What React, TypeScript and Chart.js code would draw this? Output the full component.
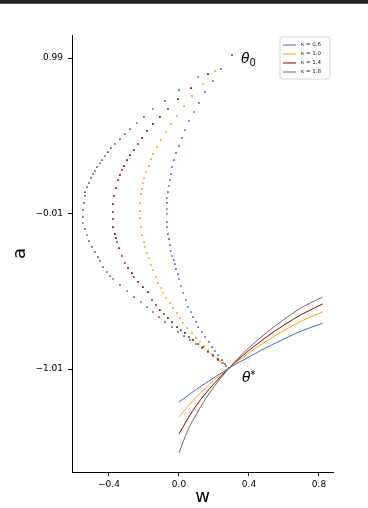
import React, { useEffect, useRef } from "react";
import { Chart, registerables } from "chart.js";

Chart.register(...registerables);

// ---------- data ----------
const SERIES_LABELS = ["κ = 0.6", "κ = 1.0", "κ = 1.4", "κ = 1.8"];
const SERIES_COLORS = ["#4169e1", "#ffa500", "#8b0000", "#696969"];
const X_TICKS = [-0.4, 0.0, 0.4, 0.8];
const Y_TICKS = [-1.01, -0.01, 0.99];

// dotted optimisation paths (w, a) from theta_0 to theta*
const PATH_06: [number, number][] = [
  [0.303, 1.009], [0.240, 0.919], [0.194, 0.842], [0.149, 0.771], [0.114, 0.701], [0.086, 0.643],
  [0.057, 0.585], [0.034, 0.527], [0.017, 0.476], [0.000, 0.424], [-0.017, 0.379], [-0.029, 0.334],
  [-0.040, 0.289], [-0.046, 0.244], [-0.051, 0.205], [-0.057, 0.167], [-0.063, 0.128], [-0.069, 0.090],
  [-0.069, 0.058], [-0.069, 0.019], [-0.069, -0.013], [-0.069, -0.065], [-0.069, -0.097], [-0.063, -0.142],
  [-0.057, -0.174], [-0.051, -0.213], [-0.046, -0.251], [-0.040, -0.283], [-0.029, -0.309], [-0.023, -0.335],
  [-0.017, -0.367], [-0.006, -0.399], [0.000, -0.431], [0.011, -0.476], [0.023, -0.521], [0.040, -0.566],
  [0.051, -0.611], [0.069, -0.643], [0.080, -0.676], [0.097, -0.708], [0.109, -0.740], [0.131, -0.772],
  [0.149, -0.804], [0.171, -0.836], [0.189, -0.869], [0.206, -0.894], [0.223, -0.920], [0.246, -0.952],
  [0.263, -0.978], [0.286, -1.004],
];
const PATH_10: [number, number][] = [
  [0.303, 1.009], [0.206, 0.906], [0.137, 0.823], [0.074, 0.746], [0.029, 0.681], [-0.011, 0.617],
  [-0.046, 0.566], [-0.074, 0.514], [-0.103, 0.463], [-0.126, 0.418], [-0.149, 0.373], [-0.160, 0.340],
  [-0.171, 0.295], [-0.189, 0.257], [-0.200, 0.218], [-0.206, 0.186], [-0.211, 0.148], [-0.217, 0.115],
  [-0.223, 0.058], [-0.223, 0.006], [-0.223, -0.039], [-0.217, -0.097], [-0.211, -0.148], [-0.200, -0.193],
  [-0.194, -0.225], [-0.183, -0.264], [-0.171, -0.296], [-0.160, -0.341], [-0.149, -0.373], [-0.131, -0.418],
  [-0.120, -0.457], [-0.103, -0.489], [-0.091, -0.521], [-0.074, -0.553], [-0.051, -0.586], [-0.034, -0.618],
  [-0.011, -0.650], [0.006, -0.682], [0.023, -0.714], [0.046, -0.746], [0.074, -0.778], [0.097, -0.811],
  [0.120, -0.836], [0.143, -0.862], [0.166, -0.888], [0.189, -0.914], [0.217, -0.939], [0.234, -0.959],
  [0.251, -0.971], [0.269, -0.991], [0.286, -1.004],
];
const PATH_14: [number, number][] = [
  [0.303, 1.009], [0.166, 0.887], [0.069, 0.797], [-0.006, 0.726], [-0.063, 0.662], [-0.109, 0.611],
  [-0.149, 0.566], [-0.183, 0.521], [-0.211, 0.476], [-0.234, 0.437], [-0.257, 0.398], [-0.280, 0.366],
  [-0.297, 0.334], [-0.314, 0.295], [-0.326, 0.270], [-0.337, 0.238], [-0.349, 0.205], [-0.360, 0.154],
  [-0.371, 0.103], [-0.377, 0.051], [-0.377, 0.000], [-0.377, -0.045], [-0.377, -0.097], [-0.366, -0.142],
  [-0.360, -0.168], [-0.354, -0.193], [-0.343, -0.232], [-0.326, -0.283], [-0.309, -0.328], [-0.291, -0.360],
  [-0.269, -0.393], [-0.257, -0.418], [-0.234, -0.450], [-0.206, -0.483], [-0.177, -0.515], [-0.154, -0.566],
  [-0.131, -0.598], [-0.109, -0.631], [-0.086, -0.656], [-0.063, -0.682], [-0.040, -0.708], [-0.011, -0.740],
  [0.011, -0.759], [0.034, -0.778], [0.057, -0.804], [0.080, -0.823], [0.109, -0.849], [0.137, -0.869],
  [0.166, -0.894], [0.194, -0.920], [0.223, -0.946], [0.251, -0.971], [0.269, -0.991], [0.286, -1.004],
];
const PATH_18: [number, number][] = [
  [0.303, 1.009], [0.109, 0.868], [0.000, 0.784], [-0.080, 0.713], [-0.149, 0.662], [-0.200, 0.611],
  [-0.240, 0.572], [-0.280, 0.533], [-0.309, 0.501], [-0.337, 0.469], [-0.366, 0.437], [-0.389, 0.411],
  [-0.406, 0.385], [-0.423, 0.360], [-0.440, 0.334], [-0.451, 0.315], [-0.469, 0.289], [-0.480, 0.263],
  [-0.491, 0.244], [-0.503, 0.218], [-0.514, 0.186], [-0.526, 0.160], [-0.537, 0.128], [-0.537, 0.103],
  [-0.543, 0.058], [-0.549, 0.013], [-0.549, -0.033], [-0.549, -0.071], [-0.537, -0.110], [-0.526, -0.148],
  [-0.514, -0.187], [-0.497, -0.225], [-0.480, -0.258], [-0.463, -0.290], [-0.451, -0.315], [-0.434, -0.354],
  [-0.411, -0.386], [-0.394, -0.412], [-0.377, -0.431], [-0.337, -0.470], [-0.297, -0.508], [-0.257, -0.547],
  [-0.217, -0.579], [-0.183, -0.611], [-0.149, -0.643], [-0.114, -0.676], [-0.080, -0.708], [-0.040, -0.740],
  [-0.006, -0.772], [0.029, -0.798], [0.063, -0.823], [0.097, -0.849], [0.131, -0.875], [0.166, -0.901],
  [0.194, -0.926], [0.223, -0.952], [0.246, -0.971], [0.269, -0.991], [0.286, -1.004],
];

// solid curves through theta*
const CURVE_W = [0, 0.05, 0.1, 0.15, 0.2, 0.286, 0.4, 0.5, 0.6, 0.7, 0.82];
const CURVE_06 = [-1.222, -1.181, -1.140, -1.102, -1.066, -1.004, -0.932, -0.872, -0.817, -0.765, -0.716];
const CURVE_10 = [-1.319, -1.250, -1.189, -1.134, -1.082, -1.004, -0.906, -0.831, -0.763, -0.701, -0.643];
const CURVE_14 = [-1.428, -1.330, -1.243, -1.170, -1.105, -1.004, -0.890, -0.804, -0.727, -0.659, -0.592];
const CURVE_18 = [-1.550, -1.405, -1.300, -1.205, -1.125, -1.004, -0.873, -0.776, -0.691, -0.615, -0.547];

const PATHS = [PATH_06, PATH_10, PATH_14, PATH_18];
const CURVES = [CURVE_06, CURVE_10, CURVE_14, CURVE_18];

// annotation anchors (data coords)
const THETA0_AT = [0.354, 0.958];
const THETASTAR_AT = [0.36, -1.094];

const fmt = (v: number, d: number) => (v < 0 ? "\u2212" : "") + Math.abs(v).toFixed(d);

const overlayPlugin = {
  id: "overlay",
  afterDatasetsDraw(chart: any) {
    const ctx = chart.ctx as CanvasRenderingContext2D;
    const xs = chart.scales.x;
    const ys = chart.scales.y;
    ctx.save();
    ctx.fillStyle = "#000";
    ctx.textBaseline = "alphabetic";
    ctx.textAlign = "left";
    // theta_0
    let px = xs.getPixelForValue(THETA0_AT[0]);
    let py = ys.getPixelForValue(THETA0_AT[1]);
    ctx.font = "italic 14px 'DejaVu Sans'";
    ctx.fillText("θ", px, py);
    let tw = ctx.measureText("θ").width;
    ctx.font = "10px 'DejaVu Sans'";
    ctx.fillText("0", px + tw, py + 3);
    // theta*
    px = xs.getPixelForValue(THETASTAR_AT[0]);
    py = ys.getPixelForValue(THETASTAR_AT[1]);
    ctx.font = "italic 14px 'DejaVu Sans'";
    ctx.fillText("θ", px, py);
    tw = ctx.measureText("θ").width;
    ctx.font = "10px 'DejaVu Sans'";
    ctx.fillText("*", px + tw, py - 4);

    // legend
    const area = chart.chartArea;
    const bx = area.right - 53;
    const by = area.top + 2;
    const bw = 50;
    const bh = 42;
    ctx.beginPath();
    const r = 2;
    ctx.moveTo(bx + r, by);
    ctx.lineTo(bx + bw - r, by);
    ctx.arcTo(bx + bw, by, bx + bw, by + r, r);
    ctx.lineTo(bx + bw, by + bh - r);
    ctx.arcTo(bx + bw, by + bh, bx + bw - r, by + bh, r);
    ctx.lineTo(bx + r, by + bh);
    ctx.arcTo(bx, by + bh, bx, by + bh - r, r);
    ctx.lineTo(bx, by + r);
    ctx.arcTo(bx, by, bx + r, by, r);
    ctx.closePath();
    ctx.fillStyle = "rgba(255,255,255,0.85)";
    ctx.fill();
    ctx.strokeStyle = "#d4d4d4";
    ctx.lineWidth = 1;
    ctx.stroke();
    ctx.font = "5.5px 'DejaVu Sans'";
    ctx.textBaseline = "middle";
    SERIES_LABELS.forEach((lab, i) => {
      const ly = by + 8 + i * 9;
      ctx.strokeStyle = SERIES_COLORS[i];
      ctx.lineWidth = 1;
      ctx.beginPath();
      ctx.moveTo(bx + 3, ly);
      ctx.lineTo(bx + 16, ly);
      ctx.stroke();
      ctx.fillStyle = "#222";
      ctx.fillText(lab, bx + 21, ly);
    });
    ctx.restore();
  },
};

export default function App() {
  const ref = useRef<HTMLCanvasElement>(null);
  useEffect(() => {
    const datasets: any[] = [];
    PATHS.forEach((path, i) => {
      datasets.push({
        label: SERIES_LABELS[i] + " path",
        data: path.map(([w, a]) => ({ x: w, y: a })),
        showLine: false,
        pointStyle: "rect",
        pointRadius: 1.2,
        pointHoverRadius: 1.2,
        backgroundColor: SERIES_COLORS[i],
        borderColor: SERIES_COLORS[i],
        pointBorderWidth: 0,
      });
    });
    CURVES.forEach((curve, i) => {
      datasets.push({
        label: SERIES_LABELS[i],
        data: CURVE_W.map((w, j) => ({ x: w, y: curve[j] })),
        showLine: true,
        pointRadius: 0,
        borderColor: SERIES_COLORS[i],
        borderWidth: 1,
        fill: false,
        cubicInterpolationMode: "monotone",
      });
    });

    const chart = new Chart(ref.current!, {
      type: "scatter",
      data: { datasets },
      options: {
        animation: false,
        responsive: false,
        events: [],
        layout: { padding: { left: 0, right: 35, top: 35, bottom: 0 } },
        plugins: { legend: { display: false }, tooltip: { enabled: false } },
        scales: {
          x: {
            type: "linear",
            min: -0.611,
            max: 0.88,
            afterBuildTicks: (s: any) => {
              s.ticks = X_TICKS.map((v) => ({ value: v }));
            },
            afterFit: (s: any) => {
              s.height = 36;
            },
            ticks: {
              callback: (v: any) => fmt(Number(v), 1),
              font: { family: "'DejaVu Sans'", size: 9 },
              color: "#000",
              padding: 3,
              maxRotation: 0,
            },
            grid: { display: true, drawOnChartArea: false, drawTicks: true, tickLength: 4, color: "#000", tickWidth: 1 },
            border: { display: true, color: "#000", width: 1 },
            title: {
              display: true,
              text: "w",
              color: "#000",
              font: { family: "'DejaVu Sans'", size: 18 },
              padding: { top: 0, bottom: 0 },
            },
          },
          y: {
            type: "linear",
            min: -1.672,
            max: 1.138,
            afterBuildTicks: (s: any) => {
              s.ticks = Y_TICKS.map((v) => ({ value: v }));
            },
            afterFit: (s: any) => {
              s.width = 72;
            },
            ticks: {
              callback: (v: any) => fmt(Number(v), 2),
              font: { family: "'DejaVu Sans'", size: 9 },
              color: "#000",
              padding: 5,
            },
            grid: { display: true, drawOnChartArea: false, drawTicks: true, tickLength: 4, color: "#000", tickWidth: 1 },
            border: { display: true, color: "#000", width: 1 },
            title: {
              display: true,
              text: "a",
              color: "#000",
              font: { family: "'DejaVu Sans'", size: 18 },
              padding: { top: 10, bottom: 0 },
            },
          },
        },
      },
      plugins: [overlayPlugin],
    } as any);
    return () => chart.destroy();
  }, []);

  return (
    <div style={{ position: "fixed", left: 0, top: 0, width: 368, height: 508, background: "#fff", overflow: "hidden" }}>
      <canvas ref={ref} width={368} height={508} style={{ display: "block", width: 368, height: 508 }} />
      <div style={{ position: "absolute", left: 0, top: 0, width: 368, height: 3, background: "#222", borderBottom: "1px solid #555" }} />
    </div>
  );
}
